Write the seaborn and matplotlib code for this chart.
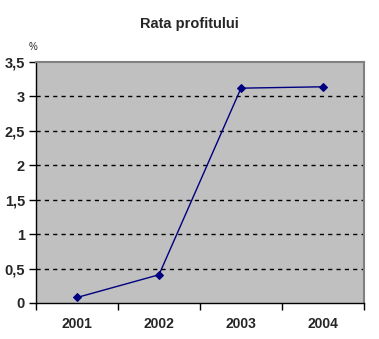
import matplotlib
matplotlib.use("Agg")
import matplotlib.pyplot as plt
import seaborn as sns
import pandas as pd
from matplotlib.ticker import FixedLocator, FuncFormatter

years = ["2001", "2002", "2003", "2004"]
values = [0.08, 0.41, 3.12, 3.14]
yticks = [0, 0.5, 1, 1.5, 2, 2.5, 3, 3.5]

sns.set_style("white")
plt.rcParams['font.family'] = ['Liberation Sans', 'DejaVu Sans']

df = pd.DataFrame({"year": years, "value": values})

fig = plt.figure(figsize=(3.79, 3.39), dpi=100)
ax = fig.add_axes([36/379, 36/339, 328/379, 241/339])
ax.set_facecolor("#C0C0C0")

sns.lineplot(data=df, x="year", y="value", ax=ax, color="#000080",
             marker="D", markersize=4.5, linewidth=1, markeredgecolor="#000080")

ax.set_xlim(-0.5, 3.5)
ax.set_ylim(0, 3.5)
ax.set_yticks(yticks)
ax.yaxis.set_major_formatter(FuncFormatter(lambda v, p: (f"{v:g}").replace(".", ",")))
for y in yticks[1:-1]:
    ax.axhline(y, color="black", linestyle=(0, (3, 3)), linewidth=1, zorder=1)

ax.xaxis.set_major_locator(FixedLocator([-0.5, 0.5, 1.5, 2.5, 3.5]))
ax.xaxis.set_major_formatter(FuncFormatter(lambda v, p: ""))
ax.xaxis.set_minor_locator(FixedLocator([0, 1, 2, 3]))
ax.xaxis.set_minor_formatter(FuncFormatter(lambda v, p: years[int(round(v))]))
ax.tick_params(axis="x", which="major", direction="out", length=5, width=1, color="black", bottom=True)
ax.tick_params(axis="x", which="minor", length=0, pad=10, labelsize=10)
ax.tick_params(axis="y", direction="out", length=5, width=1, color="black", left=True, labelsize=10.5, pad=3)
for lbl in ax.get_xticklabels(minor=True) + ax.get_yticklabels():
    lbl.set_fontweight("bold")

ax.set_xlabel("")
ax.set_ylabel("")
for side in ["top", "right"]:
    ax.spines[side].set_color("#808080")
    ax.spines[side].set_linewidth(1.5)
for side in ["left", "bottom"]:
    ax.spines[side].set_color("black")
    ax.spines[side].set_linewidth(1)

fig.text(189/379, 1 - 24/339, "Rata profitului", ha="center", va="center",
         fontsize=10.5, fontweight="bold")
fig.text(33/379, 1 - 47/339, "%", ha="center", va="center", fontsize=7)

fig.savefig("out.png", dpi=100)
